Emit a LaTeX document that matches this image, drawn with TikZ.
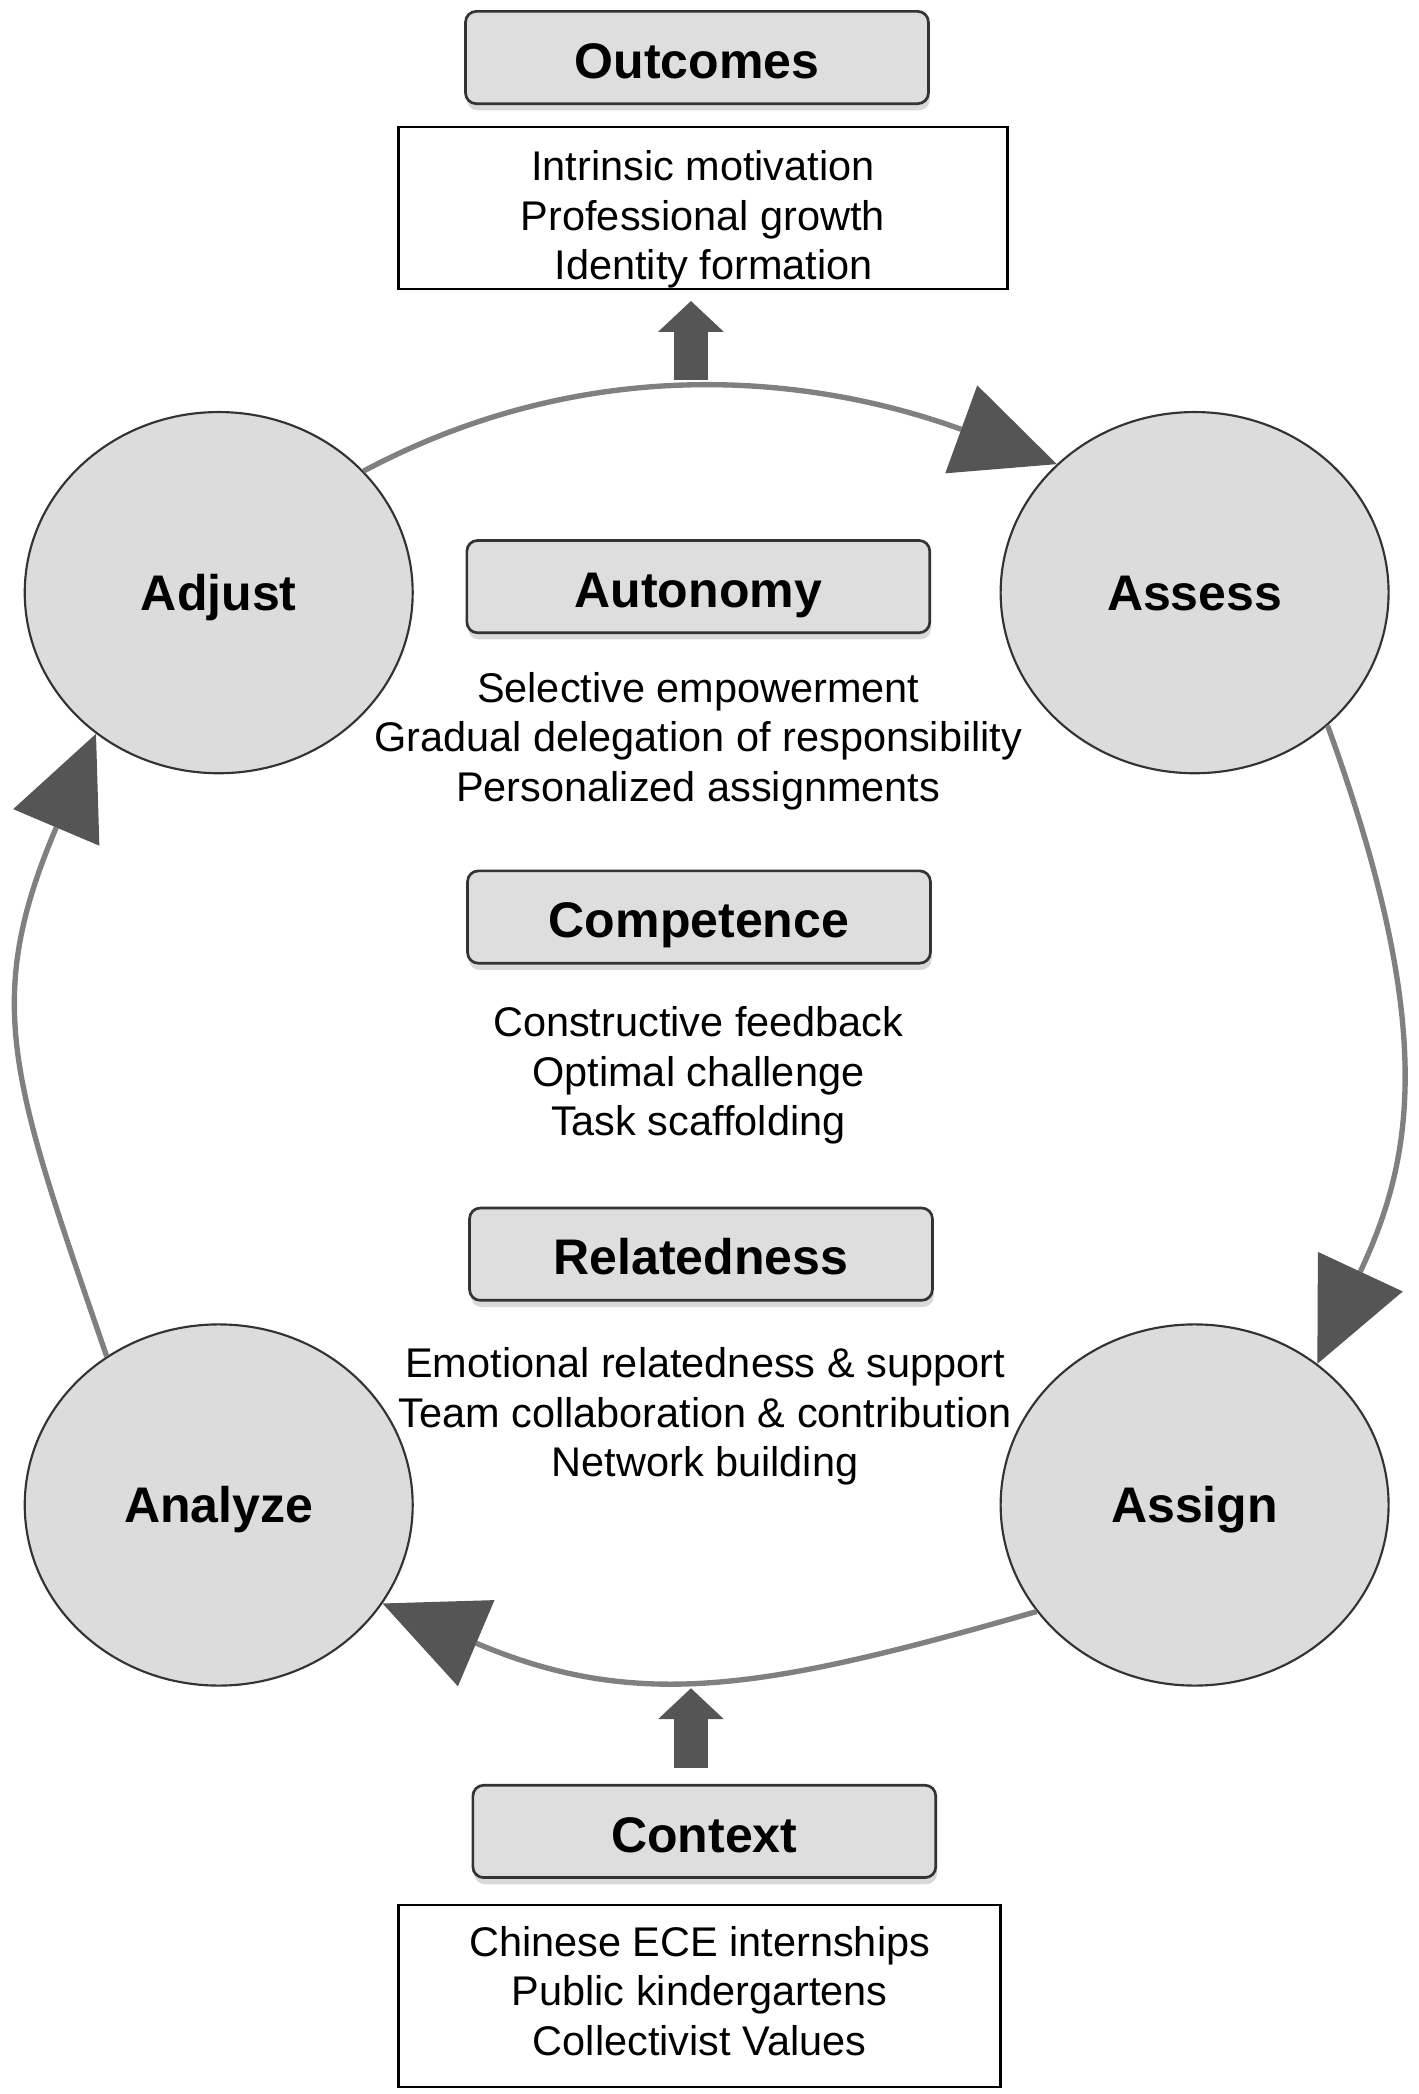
\documentclass[tikz,border=0pt]{standalone}
\usepackage{fontspec}
\setmainfont{Liberation Sans}
\usepackage{xcolor}
\usetikzlibrary{arrows.meta,calc,positioning,shadows,shapes.geometric}
\definecolor{circlegray}{HTML}{DCDCDC}
\definecolor{boxgray}{HTML}{DEDEDE}
\definecolor{edgegray}{HTML}{333333}
\definecolor{linegray}{HTML}{808080}
\definecolor{arrowgray}{HTML}{555555}

\begin{document}
\begin{tikzpicture}[x=0.5pt, y=-0.5pt,
    stage/.style={ellipse, draw=edgegray, line width=0.8pt, fill=circlegray, minimum width=145pt, minimum height=135pt, inner sep=0pt, text height=13.4pt, text depth=0pt, font=\fontsize{18.7}{22}\selectfont\bfseries},
    heading/.style={draw=edgegray, line width=1pt, rounded corners=4pt, fill=boxgray, minimum width=173pt, minimum height=34.5pt, text height=15.4pt, text depth=0pt, font=\fontsize{18.7}{22}\selectfont\bfseries, drop shadow={shadow xshift=0.5pt, shadow yshift=-2.5pt, opacity=0.3}},
    items/.style={align=center, font=\fontsize{15.5}{18.5}\selectfont},
    itembox/.style={items, draw=black, line width=1pt, inner sep=0pt},
    cyclearc/.style={draw=linegray, line width=2pt, -{Triangle[length=38pt, width=35pt, line width=0pt, color=arrowgray]}},
    blockarrow/.style={draw=arrowgray, line width=12.5pt, -{Triangle[length=11.5pt, width=24.5pt, line width=0pt]}}]
    \useasboundingbox (0,0) rectangle (1060,1565.3);
    \node[stage] (adjust) at (163.5,443) {Adjust};
    \node[stage] (assess) at (893,443) {Assess};
    \node[stage] (assign) at (893,1125) {Assign};
    \node[stage] (analyze) at (163.5,1125) {Analyze};
    \draw[cyclearc] (adjust.40) to[out=28, in=160, looseness=0.95] (assess.137);
    \draw[cyclearc] (assess.-45) to[out=-70, in=65, out looseness=1.3, in looseness=0.9] (assign.49);
    \draw[cyclearc] (assign.214) to[out=196, in=-23, looseness=1.09] (analyze.-31);
    \draw[cyclearc] (analyze.127) to[out=109, in=247, looseness=1.2] (adjust.229);
    \node[heading] (outcomes) at (521,43) {Outcomes};
    \node[itembox, minimum width=227.5pt, minimum height=60.5pt] (outlist) at (525.5,155.5) {\rule{0pt}{20pt}Intrinsic motivation\\Professional growth\\\hspace*{8pt}Identity formation};
    \node[heading] (autonomy) at (522,438.5) {Autonomy};
    \node[items] (autolist) at (522,554) {Selective empowerment\\Gradual delegation of responsibility\\Personalized assignments};
    \node[heading] (competence) at (522.5,685.5) {Competence};
    \node[items] (complist) at (522,804) {Constructive feedback\\Optimal challenge\\Task scaffolding};
    \node[heading] (relatedness) at (524,937.5) {Relatedness};
    \node[items] (rellist) at (527,1059) {Emotional relatedness \& support\\Team collaboration \& contribution\\Network building};
    \node[heading] (context) at (526.5,1369) {Context};
    \node[itembox, minimum width=225pt, minimum height=68pt] (ctxlist) at (523,1492) {Chinese ECE internships\\Public kindergartens\\Collectivist Values\rule[-4pt]{0pt}{4pt}};
    \coordinate (topmid) at (516.5,284);
    \coordinate (botmid) at (516.5,1262);
    \draw[blockarrow, shorten >=4pt] (topmid) -- (topmid |- outlist.south);
    \draw[blockarrow, shorten <=6pt] (botmid |- context.north) -- (botmid);
\end{tikzpicture}
\end{document}
